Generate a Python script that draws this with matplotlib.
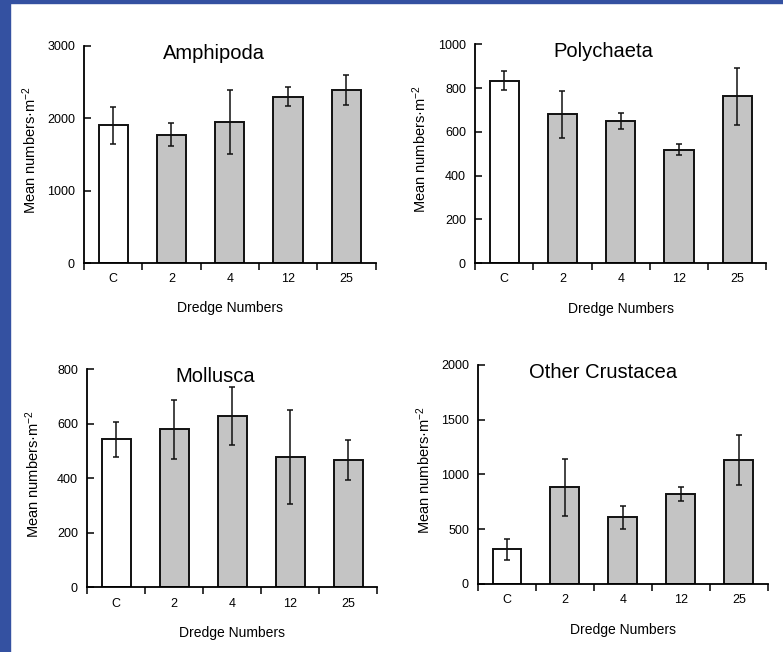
import matplotlib
matplotlib.use("Agg")
import matplotlib.pyplot as plt
from matplotlib.patches import Rectangle

plt.rcParams["font.family"] = ["Liberation Sans", "DejaVu Sans"]
plt.rcParams["mathtext.fontset"] = "custom"
plt.rcParams["mathtext.rm"] = "Liberation Sans"
plt.rcParams["mathtext.it"] = "Liberation Sans:italic"

categories = ["C", "2", "4", "12", "25"]

amphipoda = [1900, 1773, 1946, 2296, 2386]
amphipoda_err = [255, 155, 440, 130, 205]

polychaeta = [834, 680, 649, 518, 763]
polychaeta_err = [42, 108, 36, 26, 130]

mollusca = [543, 580, 629, 477, 467]
mollusca_err = [63, 109, 106, 173, 72]

crustacea = [317, 883, 609, 822, 1132]
crustacea_err = [95, 260, 107, 61, 230]

panels = [
    ("Amphipoda", amphipoda, amphipoda_err, 3000, [0, 1000, 2000, 3000], 0.445),
    ("Polychaeta", polychaeta, polychaeta_err, 1000, [0, 200, 400, 600, 800, 1000], 0.44),
    ("Mollusca", mollusca, mollusca_err, 800, [0, 200, 400, 600, 800], 0.44),
    ("Other Crustacea", crustacea, crustacea_err, 2000, [0, 500, 1000, 1500, 2000], 0.43),
]

# axes boxes in figure fractions (left, bottom, width, height)
boxes = [
    [0.1073, 0.5966, 0.3723, 0.3333],
    [0.6066, 0.5966, 0.3723, 0.3354],
    [0.1111, 0.0992, 0.3710, 0.3344],
    [0.6105, 0.1043, 0.3700, 0.3360],
]

fig = plt.figure(figsize=(7.83, 6.52), dpi=100)
fig.patch.set_facecolor("white")
blue = "#3451a1"
fig.patches.append(Rectangle((0, 0), 10 / 783, 1, transform=fig.transFigure,
                             color=blue, zorder=0))
fig.patches.append(Rectangle((0, 1 - 3 / 652), 1, 3 / 652, transform=fig.transFigure,
                             color=blue, zorder=0))

x = list(range(len(categories)))
for (title, vals, errs, ymax, yticks, tx), box in zip(panels, boxes):
    ax = fig.add_axes(box)
    colors = ["white"] + ["#c4c4c4"] * (len(vals) - 1)
    ax.bar(x, vals, width=0.5, color=colors, edgecolor="#111111", linewidth=1.4, zorder=2)
    ax.errorbar(x, vals, yerr=errs, fmt="none", ecolor="#111111", elinewidth=1.1,
                capsize=2, capthick=1.1, zorder=3)
    ax.set_xlim(-0.5, len(categories) - 0.5)
    ax.set_ylim(0, ymax)
    ax.set_yticks(yticks)
    ax.set_xticks([i - 0.5 for i in range(len(categories) + 1)])
    ax.set_xticklabels([])
    ax.set_xticks(x, minor=True)
    ax.set_xticklabels(categories, minor=True, fontsize=9)
    ax.tick_params(axis="x", which="major", direction="out", length=5, width=1.1)
    ax.tick_params(axis="x", which="minor", length=0, pad=7.5)
    ax.tick_params(axis="y", direction="in", length=5, width=1.1, labelsize=9, pad=6.5)
    for s in ["top", "right"]:
        ax.spines[s].set_visible(False)
    for s in ["left", "bottom"]:
        ax.spines[s].set_linewidth(1.3)
    ax.set_xlabel("Dredge Numbers", fontsize=10)
    ax.xaxis.set_label_coords(0.5, -0.177)
    ax.set_ylabel("Mean numbers·m$^{-2}$", fontsize=10.5)
    ax.yaxis.set_label_coords(-0.156, 0.52)
    ax.text(tx, 1.01, title, transform=ax.transAxes, ha="center", va="top", fontsize=14.5)

fig.savefig("out.png", dpi=100, facecolor=fig.get_facecolor())
